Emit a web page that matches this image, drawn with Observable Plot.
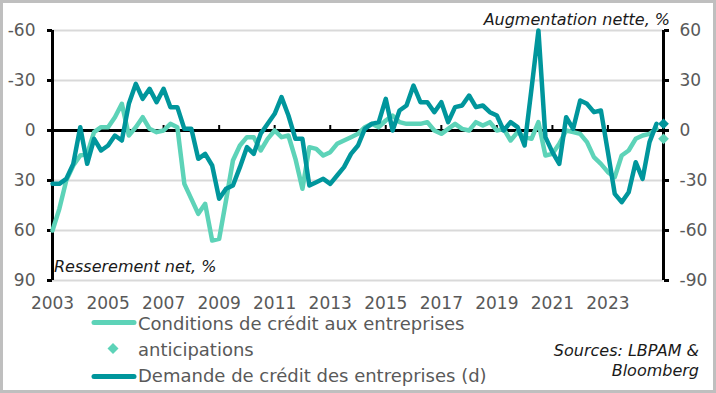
<!DOCTYPE html>
<html><head><meta charset="utf-8">
<script src="https://cdn.jsdelivr.net/npm/d3@7"></script>
<script src="https://cdn.jsdelivr.net/npm/@observablehq/plot@0.6"></script>
<style>
html,body{margin:0;padding:0;background:#fff;}
#wrap{position:relative;width:716px;height:393px;overflow:hidden;font-family:"DejaVu Sans",sans-serif;background:#fff;}
#frame{position:absolute;left:0;top:0;width:716px;height:393px;box-sizing:border-box;border:3px solid #bfbfbf;pointer-events:none;}
#chart{position:absolute;left:0;top:0;}
#overlay{position:absolute;left:0;top:0;}
</style></head><body>
<div id="wrap"><div id="chart"></div><svg id="overlay" width="716" height="393"></svg><div id="frame"></div></div>
<script>
// ---- data (quarterly, starting 2003 Q1) ----
const startYear = 2003;
// Conditions de crédit aux entreprises (left axis, net tightening %, inverted)
const conditions = [
  60, 47, 30, 21, 15, 14, 1, -2, -2, -8,
  -16, 3, -2, -8, -1, 1, 0, -4, -2, 32,
  41, 50, 44, 66, 65, 42, 18, 9, 4, 4,
  12, 5, 0, 4, 3, 17, 35, 10, 11, 15,
  13, 8, 6, 4, 2, -2, -4, -2, -6, -9,
  -5, -4, -4, -4, -5, 0, 2, -1, -4, -1,
  0, -5, -3, -5, 0, -1, 6, 1, 4, 5,
  -5, 15, 14, 8, 0, 1, 2, 7, 16, 20,
  25, 28, 15, 12, 5, 3, 2, -1
];
// Demande de crédit des entreprises (right axis, net increase %)
const demand = [
  -32, -32, -29, -20, 2, -20, -5, -12, -9, -3,
  -6, 16, 28, 19, 25, 17, 25, 14, 14, 1,
  1, -17, -14, -21, -41, -35, -33, -22, -10, -14,
  -2, 4, 10, 20, 9, -5, -5, -33, -31, -29,
  -32, -27, -22, -14, -9, 1, 4, 5, 19, 0,
  12, 15, 27, 17, 17, 11, 17, 5, 14, 15,
  21, 14, 15, 11, 9, 0, 5, 2, -9, 25,
  60, -4, -13, -20, 8, 1, 18, 16, 11, 12,
  -13, -38, -43, -37, -19, -29, -7, 4
];
// anticipations (next quarter)
const anticipConditions = 5;
const anticipDemand = 4;

const yearTicks = [2003, 2005, 2007, 2009, 2011, 2013, 2015, 2017, 2019, 2021, 2023];
const leftTicks = [-60, -30, 0, 30, 60, 90];
const rightTickLabels = ["60", "30", "0", "-30", "-60", "-90"];
const gridValues = [-60, -30, 30, 60, 90];
const legendLabels = ["Conditions de crédit aux entreprises", "anticipations", "Demande de crédit des entreprises (d)"];
const titleRight = "Augmentation nette, %";
const titleLeft = "Resserement net, %";
const sourceLines = ["Sources: LBPAM &", "Bloomberg"];

const LIGHT = "#5dd3b8";
const DARK = "#00969c";
const GRAY = "#595959";

// ---- derived tables ----
const qDate = i => new Date(Date.UTC(startYear, 3 * i, 1));
const condData = conditions.map((v, i) => ({date: qDate(i), value: v}));
const demData = demand.map((v, i) => ({date: qDate(i), value: v}));
const anticData = [
  {date: qDate(conditions.length), value: anticipConditions, axis: "left", color: LIGHT},
  {date: qDate(demand.length), value: anticipDemand, axis: "right", color: DARK}
];
const yearDates = yearTicks.map(y => new Date(Date.UTC(y, 0, 1)));
const xDomain = [new Date(Date.UTC(2003, 0, 1)), new Date(Date.UTC(2025, 0, 1))];
const yDomain = [leftTicks[leftTicks.length - 1], leftTicks[0]]; // inverted left axis
// right axis is the mirror of the left axis: right value v sits at left value -v
const toLeft = d => d.axis === "right" ? -d.value : d.value;

const diamond = {
  draw(ctx, size) {
    const h = Math.sqrt(size / 2);
    ctx.moveTo(0, -h); ctx.lineTo(h, 0); ctx.lineTo(0, h); ctx.lineTo(-h, 0); ctx.closePath();
  }
};

const chart = Plot.plot({
  width: 716,
  height: 320,
  marginLeft: 52,
  marginRight: 53,
  marginTop: 30,
  marginBottom: 40,
  style: {fontFamily: "DejaVu Sans, sans-serif", fontSize: "17px", color: GRAY, background: "transparent", overflow: "visible"},
  x: {type: "utc", domain: xDomain, label: null},
  y: {domain: yDomain, label: null},
  marks: [
    Plot.ruleY(gridValues, {stroke: "#d9d9d9", strokeWidth: 2}),
    Plot.axisX({ticks: yearDates, tickFormat: d3.utcFormat("%Y"), tickSize: 0, tickPadding: 16, fill: GRAY, fontSize: 17, label: null}),
    Plot.axisY({anchor: "left", ticks: leftTicks, tickFormat: d => String(d), tickSize: 5, tickPadding: 12,
                stroke: "black", strokeWidth: 3, fill: GRAY, fontSize: 17, label: null}),
    Plot.axisY({anchor: "right", ticks: leftTicks, tickFormat: (d, i) => rightTickLabels[i], tickSize: 5, tickPadding: 11,
                stroke: "black", strokeWidth: 3, fill: GRAY, fontSize: 17, label: null}),
    Plot.ruleX([xDomain[0], xDomain[1]], {y1: yDomain[1], y2: yDomain[0], stroke: "black", strokeWidth: 3}),
    Plot.ruleY([0], {stroke: "black", strokeWidth: 3}),
    Plot.ruleX(yearDates, {y1: 0, y2: -3, stroke: "black", strokeWidth: 2}),
    Plot.line(condData, {x: "date", y: "value", stroke: LIGHT, strokeWidth: 4.5, strokeLinejoin: "round", strokeLinecap: "round"}),
    Plot.line(demData, {x: "date", y: d => -d.value, stroke: DARK, strokeWidth: 4.5, strokeLinejoin: "round", strokeLinecap: "round"}),
    Plot.dot(anticData, {x: "date", y: toLeft, fill: d => d.color, symbol: diamond, r: 4.3, stroke: null})
  ]
});
document.getElementById("chart").appendChild(chart);

// ---- overlay texts and legend ----
const ov = d3.select("#overlay");
const font = "DejaVu Sans, sans-serif";
ov.append("text").attr("x", 670).attr("y", 25).attr("text-anchor", "end")
  .attr("font-family", font).attr("font-style", "italic").attr("font-size", 16).attr("fill", "#1a1a1a").text(titleRight);
ov.append("text").attr("x", 54).attr("y", 272)
  .attr("font-family", font).attr("font-style", "italic").attr("font-size", 16).attr("fill", "#1a1a1a").text(titleLeft);

const legendRows = [
  {label: legendLabels[0], kind: "line", color: LIGHT, cy: 322.5, base: 330},
  {label: legendLabels[1], kind: "diamond", color: LIGHT, cy: 348.5, base: 355.5},
  {label: legendLabels[2], kind: "line", color: DARK, cy: 376.5, base: 382}
];
legendRows.forEach(r => {
  if (r.kind === "line") {
    ov.append("line").attr("x1", 94).attr("x2", 134).attr("y1", r.cy).attr("y2", r.cy)
      .attr("stroke", r.color).attr("stroke-width", 5).attr("stroke-linecap", "round");
  } else {
    const h = 5.5, cx = 113, cy = r.cy;
    ov.append("path").attr("d", `M${cx},${cy - h}L${cx + h},${cy}L${cx},${cy + h}L${cx - h},${cy}Z`).attr("fill", r.color);
  }
  ov.append("text").attr("x", 138).attr("y", r.base).attr("font-family", font).attr("font-size", 18)
    .attr("fill", GRAY).text(r.label);
});
sourceLines.forEach((s, i) => {
  ov.append("text").attr("x", 699).attr("y", 356 + i * 19.5).attr("text-anchor", "end")
    .attr("font-family", font).attr("font-style", "italic").attr("font-size", 16).attr("fill", "#1a1a1a").text(s);
});
</script>
</body></html>
